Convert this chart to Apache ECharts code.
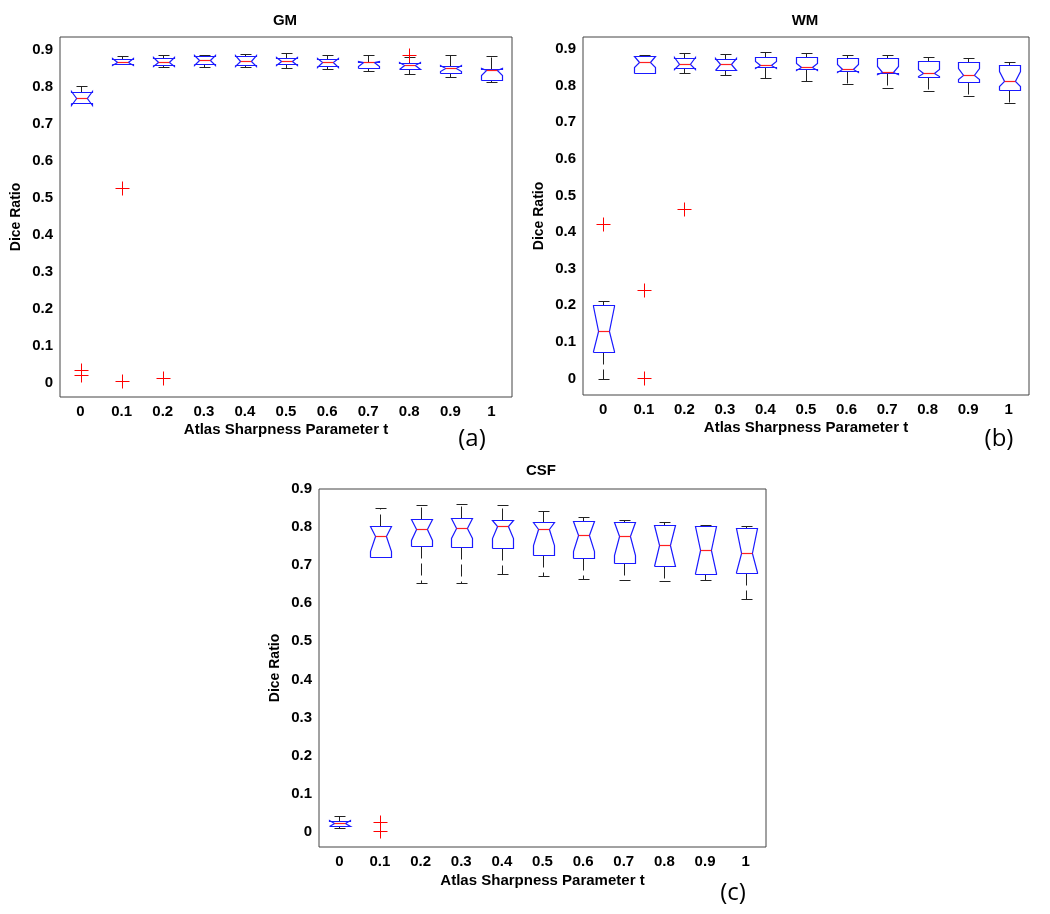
<!DOCTYPE html>
<html>
<head>
<meta charset="utf-8">
<script src="https://cdn.jsdelivr.net/npm/echarts@6/dist/echarts.min.js"></script>
<style>
html, body { margin: 0; padding: 0; background: #fff; }
#chart { width: 1050px; height: 914px; }
</style>
</head>
<body>
<div id="chart"></div>
<script>
// x categories and y tick values
const tLabels = ['0', '0.1', '0.2', '0.3', '0.4', '0.5', '0.6', '0.7', '0.8', '0.9', '1']
const yTicks = [0, 0.1, 0.2, 0.3, 0.4, 0.5, 0.6, 0.7, 0.8, 0.9]

// GM
const gmLow     = [0.757, 0.862, 0.855, 0.855, 0.856, 0.852, 0.849, 0.844, 0.837, 0.828, 0.814]
const gmQ1      = [0.757, 0.862, 0.860, 0.862, 0.860, 0.862, 0.858, 0.852, 0.850, 0.838, 0.820]
const gmNotchLo = [0.753, 0.860, 0.858, 0.860, 0.858, 0.860, 0.856, 0.857, 0.848, 0.843, 0.834]
const gmMedian  = [0.772, 0.869, 0.869, 0.873, 0.872, 0.871, 0.869, 0.867, 0.859, 0.852, 0.846]
const gmNotchHi = [0.791, 0.878, 0.882, 0.887, 0.886, 0.882, 0.879, 0.871, 0.867, 0.860, 0.853]
const gmQ3      = [0.787, 0.876, 0.880, 0.885, 0.884, 0.880, 0.877, 0.869, 0.865, 0.858, 0.850]
const gmHigh    = [0.802, 0.884, 0.886, 0.887, 0.889, 0.892, 0.888, 0.888, 0.881, 0.886, 0.884]
const gmOutliers = [[0, 0.035], [0, 0.021], [1, 0.526], [1, 0.004], [2, 0.013], [8, 0.886]]

// WM
const wmLow     = [0.000, 0.834, 0.836, 0.828, 0.821, 0.812, 0.805, 0.794, 0.785, 0.771, 0.754]
const wmQ1      = [0.073, 0.834, 0.847, 0.844, 0.851, 0.845, 0.840, 0.834, 0.825, 0.811, 0.787]
const wmNotchLo = [0.074, 0.850, 0.845, 0.842, 0.849, 0.843, 0.838, 0.832, 0.826, 0.818, 0.798]
const wmMedian  = [0.129, 0.866, 0.860, 0.859, 0.856, 0.851, 0.846, 0.838, 0.834, 0.828, 0.814]
const wmNotchHi = [0.199, 0.881, 0.877, 0.876, 0.868, 0.862, 0.858, 0.853, 0.846, 0.848, 0.839]
const wmQ3      = [0.201, 0.881, 0.875, 0.874, 0.878, 0.878, 0.875, 0.875, 0.867, 0.864, 0.856]
const wmHigh    = [0.211, 0.884, 0.888, 0.887, 0.891, 0.889, 0.885, 0.883, 0.877, 0.875, 0.865]
const wmOutliers = [[0, 0.421], [1, 0.243], [1, 0.002], [2, 0.463]]

// CSF
const csfLow     = [0.011, 0.722, 0.652, 0.653, 0.676, 0.672, 0.664, 0.662, 0.658, 0.660, 0.612]
const csfQ1      = [0.016, 0.722, 0.750, 0.748, 0.746, 0.728, 0.719, 0.705, 0.697, 0.678, 0.680]
const csfNotchLo = [0.014, 0.737, 0.767, 0.772, 0.771, 0.754, 0.736, 0.727, 0.697, 0.679, 0.681]
const csfMedian  = [0.022, 0.776, 0.794, 0.798, 0.803, 0.794, 0.779, 0.777, 0.753, 0.740, 0.733]
const csfNotchHi = [0.030, 0.803, 0.821, 0.823, 0.819, 0.814, 0.815, 0.814, 0.805, 0.803, 0.797]
const csfQ3      = [0.028, 0.803, 0.821, 0.823, 0.819, 0.814, 0.815, 0.814, 0.805, 0.803, 0.797]
const csfHigh    = [0.041, 0.850, 0.857, 0.861, 0.857, 0.842, 0.827, 0.819, 0.813, 0.805, 0.802]
const csfOutliers = [[1, 0.025], [1, 0.003]]

const panels = [
  { title: 'GM', tag: '(a)', grid: { left: 60, top: 37, width: 452, height: 360 }, yMin: -0.039, yMax: 0.936,
    low: gmLow, q1: gmQ1, nLo: gmNotchLo, med: gmMedian, nHi: gmNotchHi, q3: gmQ3, high: gmHigh, out: gmOutliers,
    titlePos: [285, 21], tagPos: [472, 439], nameGap: 25 },
  { title: 'WM', tag: '(b)', grid: { left: 583, top: 37, width: 446, height: 358 }, yMin: -0.045, yMax: 0.933,
    low: wmLow, q1: wmQ1, nLo: wmNotchLo, med: wmMedian, nHi: wmNotchHi, q3: wmQ3, high: wmHigh, out: wmOutliers,
    titlePos: [805, 21], tagPos: [999, 439], nameGap: 25 },
  { title: 'CSF', tag: '(c)', grid: { left: 319, top: 489, width: 447, height: 358 }, yMin: -0.04, yMax: 0.9,
    low: csfLow, q1: csfQ1, nLo: csfNotchLo, med: csfMedian, nHi: csfNotchHi, q3: csfQ3, high: csfHigh, out: csfOutliers,
    titlePos: [541, 471], tagPos: [733, 893], nameGap: 26 }
]

const FONT = '"Liberation Sans", Arial, sans-serif'
const px = v => Math.round(v) + 0.5

const renderBox = (params, api) => {
  const i = api.value(0)
  const band = api.size([1, 0])[0]
  const half = band * 0.25
  const inset = half * 0.5
  const cx = px(api.coord([i, 0])[0])
  const y = k => px(api.coord([i, api.value(k)])[1])
  const lo = y(1), q1 = y(2), nLo = y(3), med = y(4), nHi = y(5), q3 = y(6), hi = y(7)
  const x1 = px(cx - half), x2 = px(cx + half)
  const capL = px(cx - half / 2), capR = px(cx + half / 2)
  const whisk = { stroke: '#222', lineWidth: 1, lineDash: [12, 5] }
  const cap = { stroke: '#222', lineWidth: 1 }
  const kids = []
  // whiskers and caps only where the whisker reaches past the box
  if (hi < q3) {
    kids.push({ type: 'line', shape: { x1: cx, y1: q3, x2: cx, y2: hi }, style: whisk })
    kids.push({ type: 'line', shape: { x1: capL, y1: hi, x2: capR, y2: hi }, style: cap })
  }
  if (lo > q1) {
    kids.push({ type: 'line', shape: { x1: cx, y1: q1, x2: cx, y2: lo }, style: whisk })
    kids.push({ type: 'line', shape: { x1: capL, y1: lo, x2: capR, y2: lo }, style: cap })
  }
  kids.push({
    type: 'polyline',
    shape: {
      points: [[x1, q1], [x1, nLo], [x1 + inset, med], [x1, nHi], [x1, q3], [x2, q3],
        [x2, nHi], [x2 - inset, med], [x2, nLo], [x2, q1], [x1, q1]]
    },
    style: { stroke: '#1a1aff', fill: null, lineWidth: 1.2 }
  })
  kids.push({ type: 'line', shape: { x1: x1 + inset, y1: med, x2: x2 - inset, y2: med }, style: { stroke: '#ff2020', lineWidth: 1.2 } })
  return { type: 'group', children: kids }
}

const renderPlus = (params, api) => {
  const p = api.coord([api.value(0), api.value(1)])
  const cx = px(p[0]), cy = px(p[1]), r = 7
  const st = { stroke: '#ff0000', lineWidth: 1 }
  return {
    type: 'group',
    children: [
      { type: 'line', shape: { x1: cx - r, y1: cy, x2: cx + r, y2: cy }, style: st },
      { type: 'line', shape: { x1: cx, y1: cy - r, x2: cx, y2: cy + r }, style: st }
    ]
  }
}

const grid = [], xAxis = [], yAxis = [], series = [], graphic = []
panels.forEach((p, g) => {
  grid.push(Object.assign({ show: true, borderColor: '#444', borderWidth: 1, backgroundColor: '#fff' }, p.grid))
  const xBase = {
    type: 'category', gridIndex: g, data: tLabels, boundaryGap: true,
    axisLine: { show: false },
    axisTick: { inside: true, length: 5, alignWithLabel: true, lineStyle: { color: '#444' } },
    splitLine: { show: false }
  }
  xAxis.push(Object.assign({}, xBase, {
    position: 'bottom',
    axisLabel: { color: '#000', fontWeight: 'bold', fontSize: 15, fontFamily: FONT, margin: 7, interval: 0 },
    name: 'Atlas Sharpness Parameter t', nameLocation: 'middle', nameGap: p.nameGap,
    nameTextStyle: { color: '#000', fontWeight: 'bold', fontSize: 15, fontFamily: FONT }
  }))
  xAxis.push(Object.assign({}, xBase, { position: 'top', axisLabel: { show: false } }))
  const yBase = {
    type: 'value', gridIndex: g, min: p.yMin, max: p.yMax,
    axisLine: { show: false },
    axisTick: { inside: true, length: 5, customValues: yTicks, lineStyle: { color: '#444' } },
    splitLine: { show: false }
  }
  yAxis.push(Object.assign({}, yBase, {
    position: 'left',
    axisLabel: { customValues: yTicks, color: '#000', fontWeight: 'bold', fontSize: 15, fontFamily: FONT, margin: 7 },
    name: 'Dice Ratio', nameLocation: 'middle', nameGap: 37, nameRotate: 90,
    nameTextStyle: { color: '#000', fontWeight: 'bold', fontSize: 14, fontFamily: FONT }
  }))
  yAxis.push(Object.assign({}, yBase, { position: 'right', axisLabel: { show: false } }))

  const boxes = tLabels.map((_, i) => [i, p.low[i], p.q1[i], p.nLo[i], p.med[i], p.nHi[i], p.q3[i], p.high[i]])
  series.push({
    type: 'custom', xAxisIndex: g * 2, yAxisIndex: g * 2,
    renderItem: renderBox, data: boxes, encode: { x: 0, y: [1, 2, 3, 4, 5, 6, 7] }, silent: true
  })
  series.push({
    type: 'custom', xAxisIndex: g * 2, yAxisIndex: g * 2,
    renderItem: renderPlus, data: p.out, encode: { x: 0, y: 1 }, silent: true
  })

  graphic.push({
    type: 'text', x: p.titlePos[0], y: p.titlePos[1],
    style: { text: p.title, fill: '#000', font: 'bold 15px ' + FONT, align: 'center', verticalAlign: 'middle' }
  })
  graphic.push({
    type: 'text', x: p.tagPos[0], y: p.tagPos[1],
    style: { text: p.tag, fill: '#000', font: '24px "Open Sans", "Noto Sans", sans-serif', align: 'center', verticalAlign: 'middle' }
  })
})

const chart = echarts.init(document.getElementById('chart'), null, { renderer: 'canvas' })
chart.setOption({
  animation: false,
  backgroundColor: '#fff',
  tooltip: { show: false },
  grid, xAxis, yAxis, series, graphic
})
</script>
</body>
</html>
